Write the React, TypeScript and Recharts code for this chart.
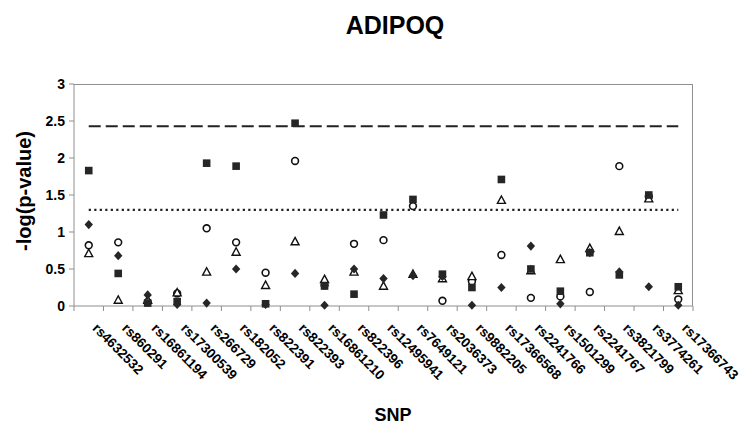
import { ComposedChart, Line, Scatter, XAxis, YAxis } from "recharts";

const snps = [
  "rs4632532", "rs860291", "rs16861194", "rs17300539", "rs266729", "rs182052", "rs822391",
  "rs822393", "rs16861210", "rs822396", "rs12495941", "rs7649121", "rs2036373", "rs9882205",
  "rs17366568", "rs2241766", "rs1501299", "rs2241767", "rs3821799", "rs3774261", "rs17366743",
];

// one array per marker style
const squareVals = [1.83, 0.44, 0.04, 0.06, 1.93, 1.89, 0.03, 2.47, 0.27, 0.16, 1.23, 1.44, 0.43, 0.25, 1.71, 0.5, 0.2, 0.72, 0.42, 1.5, 0.26];
const circleVals = [0.82, 0.86, 0.05, 0.17, 1.05, 0.86, 0.45, 1.96, 0.28, 0.84, 0.89, 1.35, 0.07, 0.33, 0.69, 0.11, 0.13, 0.19, 1.89, 1.48, 0.09];
const triangleVals = [0.71, 0.08, 0.08, 0.18, 0.46, 0.73, 0.28, 0.87, 0.36, 0.46, 0.27, 0.43, 0.37, 0.4, 1.43, 0.48, 0.63, 0.78, 1.01, 1.45, 0.21];
const diamondVals = [1.1, 0.68, 0.15, 0.02, 0.04, 0.5, 0.02, 0.44, 0.01, 0.5, 0.37, 0.41, 0.4, 0.01, 0.25, 0.81, 0.03, 0.72, 0.46, 0.26, 0.01];

const strictCutoff = 2.43;
const nominalCutoff = 1.3;
const yTicks = [0, 0.5, 1, 1.5, 2, 2.5, 3];

const data = snps.map((snp, i) => ({
  snp,
  sq: squareVals[i],
  ci: circleVals[i],
  tr: triangleVals[i],
  di: diamondVals[i],
  strict: strictCutoff,
  nominal: nominalCutoff,
}));

const FONT = '"Liberation Sans", Arial, sans-serif';
const DARK = "#262626";
const AXIS = "#8f8f8f";
const PLOT_LEFT = 74;
const PLOT_TOP = 84;
const PLOT_W = 619;
const PLOT_H = 222;
const BAND = PLOT_W / snps.length;

const Square = (p: any) => <rect x={p.cx - 3.8} y={p.cy - 3.8} width={7.6} height={7.6} fill={DARK} />;
const Circle = (p: any) => <circle cx={p.cx} cy={p.cy} r={3.4} fill="#fff" stroke="#111" strokeWidth={1.6} />;
const Triangle = (p: any) => (
  <path
    d={`M${p.cx},${p.cy - 4.2} L${p.cx + 4},${p.cy + 3.2} L${p.cx - 4},${p.cy + 3.2} Z`}
    fill="#fff"
    stroke="#111"
    strokeWidth={1.4}
  />
);
const Diamond = (p: any) => (
  <path d={`M${p.cx},${p.cy - 4.6} L${p.cx + 4.2},${p.cy} L${p.cx},${p.cy + 4.6} L${p.cx - 4.2},${p.cy} Z`} fill={DARK} />
);

function SnpTick(props: any) {
  const { x, y, payload, index } = props;
  return (
    <g>
      {index === 0 && <line x1={x - BAND / 2} x2={x - BAND / 2} y1={y} y2={y + 5} stroke={AXIS} />}
      <line x1={x + BAND / 2} x2={x + BAND / 2} y1={y} y2={y + 5} stroke={AXIS} />
      <text
        x={x + 3}
        y={y + 23}
        transform={`rotate(45 ${x + 3} ${y + 23})`}
        textAnchor="start"
        fontFamily={FONT}
        fontWeight="bold"
        fontSize={13.5}
        fill="#000"
      >
        {payload.value}
      </text>
    </g>
  );
}

export default function App() {
  return (
    <div style={{ position: "absolute", left: 0, top: 0, width: 750, height: 437, background: "#fff", fontFamily: FONT }}>
      <div style={{ position: "absolute", left: 0, width: 750, top: 11, textAlign: "center", paddingLeft: 40, boxSizing: "border-box", fontSize: 25, fontWeight: "bold" }}>
        ADIPOQ
      </div>
      <div
        style={{
          position: "absolute",
          left: 24,
          top: 191,
          transform: "translate(-50%, -50%) rotate(-90deg)",
          fontSize: 20,
          fontWeight: "bold",
          whiteSpace: "nowrap",
        }}
      >
        -log(p-value)
      </div>
      <div style={{ position: "absolute", left: 393, top: 405, transform: "translateX(-50%)", fontSize: 18, fontWeight: "bold" }}>
        SNP
      </div>
      <ComposedChart width={750} height={437} data={data} margin={{ top: PLOT_TOP, right: 750 - PLOT_LEFT - PLOT_W, bottom: 437 - PLOT_TOP - PLOT_H - 60, left: 0 }}>
        <XAxis
          dataKey="snp"
          type="category"
          interval={0}
          height={60}
          padding={{ left: BAND / 2, right: BAND / 2 }}
          axisLine={{ stroke: AXIS }}
          tickLine={false}
          tickSize={0}
          tickMargin={0}
          tick={<SnpTick />}
        />
        <YAxis
          type="number"
          domain={[0, 3]}
          ticks={yTicks}
          width={PLOT_LEFT}
          axisLine={{ stroke: AXIS }}
          tickLine={{ stroke: AXIS }}
          tickSize={5}
          tickMargin={4}
          tickFormatter={(v) => String(v)}
          tick={{ fill: "#000", fontSize: 14, fontWeight: "bold", fontFamily: FONT }}
        />
        <Line dataKey="strict" stroke="#222" strokeWidth={2} strokeDasharray="12 5" dot={false} isAnimationActive={false} />
        <Line dataKey="nominal" stroke="#222" strokeWidth={2.2} strokeDasharray="2.2 3.3" dot={false} isAnimationActive={false} />
        <Scatter dataKey="ci" shape={Circle} isAnimationActive={false} />
        <Scatter dataKey="tr" shape={Triangle} isAnimationActive={false} />
        <Scatter dataKey="sq" shape={Square} isAnimationActive={false} />
        <Scatter dataKey="di" shape={Diamond} isAnimationActive={false} />
      </ComposedChart>
      <div
        style={{
          position: "absolute",
          left: PLOT_LEFT,
          top: PLOT_TOP,
          width: PLOT_W,
          height: PLOT_H,
          borderTop: `1px solid ${AXIS}`,
          borderRight: `1px solid ${AXIS}`,
          boxSizing: "border-box",
          pointerEvents: "none",
        }}
      />
    </div>
  );
}
